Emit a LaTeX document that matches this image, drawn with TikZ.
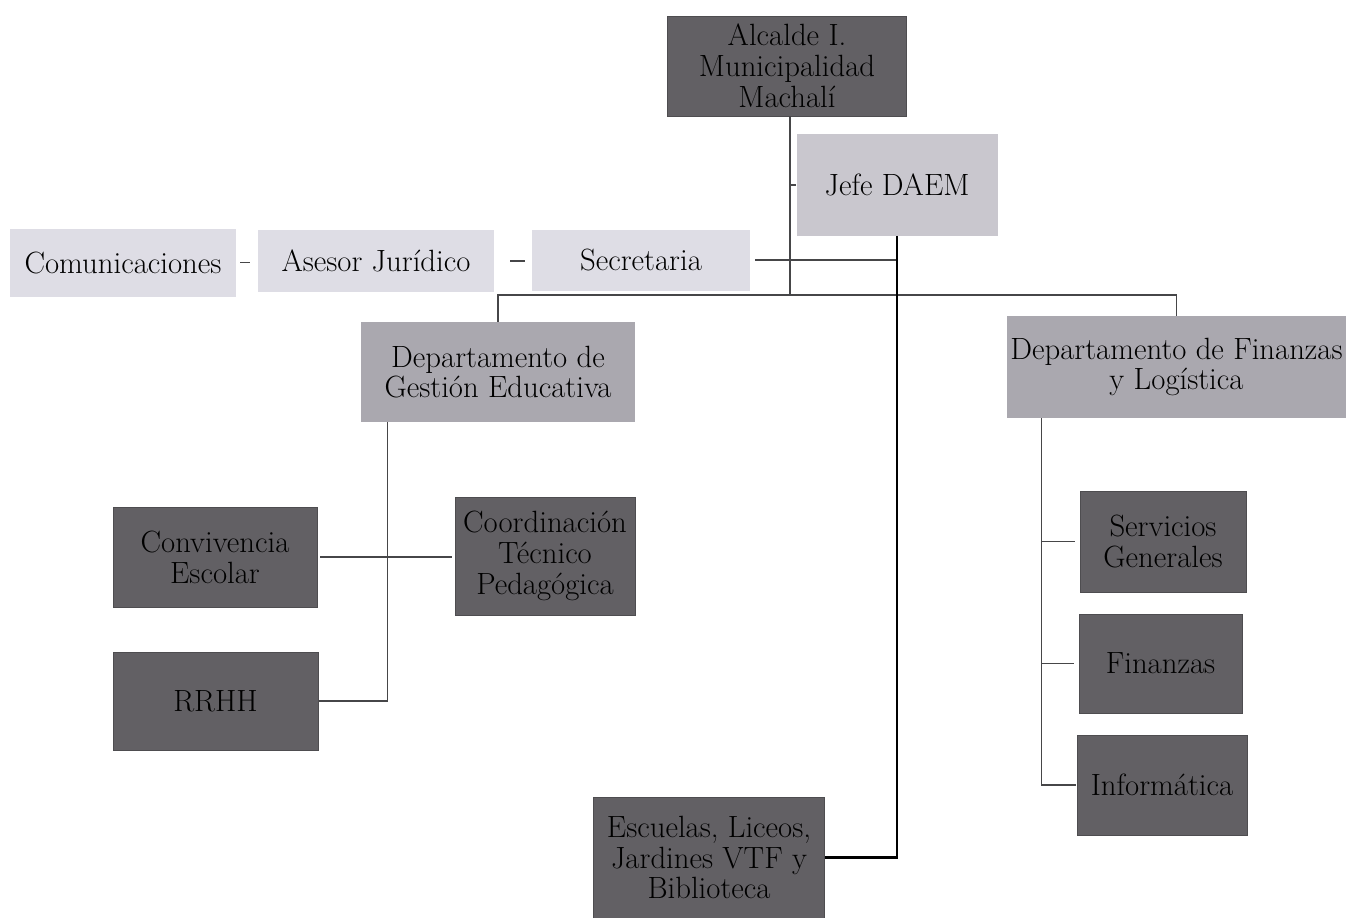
\documentclass[tikz,border=0pt]{standalone}
\usetikzlibrary{positioning}

\definecolor{darkbox}{RGB}{98,96,100}
\definecolor{midbox}{RGB}{170,168,175}
\definecolor{jefebox}{RGB}{201,199,206}
\definecolor{lightbox}{RGB}{222,221,229}
\definecolor{linegray}{RGB}{70,70,72}

\begin{document}
\begin{tikzpicture}
				\tikzstyle{unit}=[rectangle,align=center,inner sep=2pt,font=\fontsize{17.5}{17.5}\selectfont,text=black]
				\tikzstyle{darkunit}=[unit,fill=darkbox,draw=darkbox!80!black]
				\tikzstyle{midunit}=[unit,fill=midbox]
				\tikzstyle{lightunit}=[unit,fill=lightbox]
				\tikzstyle{link}=[draw=linegray,line width=0.9pt]

				\useasboundingbox (0,0) rectangle (26.96,-18.36);

				\node (alcalde) [darkunit, minimum width=4.78cm, minimum height=2cm] at (15.74,-1.32) {Alcalde I.\\Municipalidad\\Machalí};
				\node (jefe) [unit, fill=jefebox, minimum width=4.02cm, minimum height=2.02cm] at (17.94,-3.70) {Jefe DAEM};

				\node (comunicaciones) [lightunit, minimum width=4.52cm, minimum height=1.36cm] at (2.46,-5.25) {Comunicaciones};
				\node (asesor) [lightunit, minimum width=4.72cm, minimum height=1.24cm] at (7.52,-5.22) {Asesor Jurídico};
				\node (secretaria) [lightunit, minimum width=4.36cm, minimum height=1.22cm] at (12.82,-5.20) {Secretaria};

				\node (gestion) [midunit, minimum width=5.48cm, minimum height=2cm] at (9.96,-7.44) {Departamento de\\Gestión Educativa};
				\node (depfinanzas) [midunit, minimum width=6.78cm, minimum height=2.04cm] at (23.53,-7.34) {Departamento de Finanzas\\y Logística};

				\node (convivencia) [darkunit, minimum width=4.08cm, minimum height=2cm] at (4.30,-11.14) {Convivencia\\Escolar};
				\node (coordinacion) [darkunit, minimum width=3.6cm, minimum height=2.36cm] at (10.90,-11.12) {Coordinación\\Técnico\\Pedagógica};
				\node (rrhh) [darkunit, minimum width=4.1cm, minimum height=1.96cm] at (4.31,-14.02) {RRHH};

				\node (servicios) [darkunit, minimum width=3.32cm, minimum height=2.02cm] at (23.26,-10.83) {Servicios\\Generales};
				\node (finanzas) [darkunit, minimum width=3.26cm, minimum height=1.98cm] at (23.21,-13.27) {Finanzas};
				\node (informatica) [darkunit, minimum width=3.4cm, minimum height=2cm] at (23.24,-15.70) {Informática};

				\node (escuelas) [darkunit, minimum width=4.62cm, minimum height=2.42cm] at (14.18,-17.15) {Escuelas, Liceos,\\Jardines VTF y\\Biblioteca};

				% top of the chart
				\coordinate (hub) at (15.80,-5.90);
				\draw[link] ([xshift=0.06cm]alcalde.south) -- (hub);
				\draw[link] (jefe.west) -- (jefe.west -| hub);
				\draw[link] (gestion.north) |- (hub) -| (depfinanzas.north);

				% staff row
				\draw[link, shorten <=0.08cm, shorten >=0.16cm] (comunicaciones.east) -- (comunicaciones.east -| asesor.west);
				\draw[link, shorten <=0.32cm, shorten >=0.14cm] (asesor.east) -- (asesor.east -| secretaria.west);
				\draw[link, shorten <=0.1cm] (secretaria.east) -- (secretaria.east -| jefe.south);

				% schools
				\draw[draw=black, line width=1.3pt] (jefe.south) |- (escuelas.east);

				% Gestion Educativa
				\coordinate (gtrunk) at ([xshift=0.54cm]gestion.south west);
				\draw[link] (gtrunk) |- ([xshift=0.02cm]rrhh.east);
				\draw[link, shorten <=0.06cm, shorten >=0.06cm] (convivencia.east) -- (convivencia.east -| coordinacion.west);

				% Finanzas y Logistica
				\coordinate (ftrunk) at ([xshift=0.70cm]depfinanzas.south west);
				\draw[link] (ftrunk) |- ([xshift=-0.02cm]informatica.west);
				\foreach \n in {servicios, finanzas}
					\draw[link, shorten <=0.1cm] (\n.west) -- (\n.west -| ftrunk);
			\end{tikzpicture}
\end{document}
